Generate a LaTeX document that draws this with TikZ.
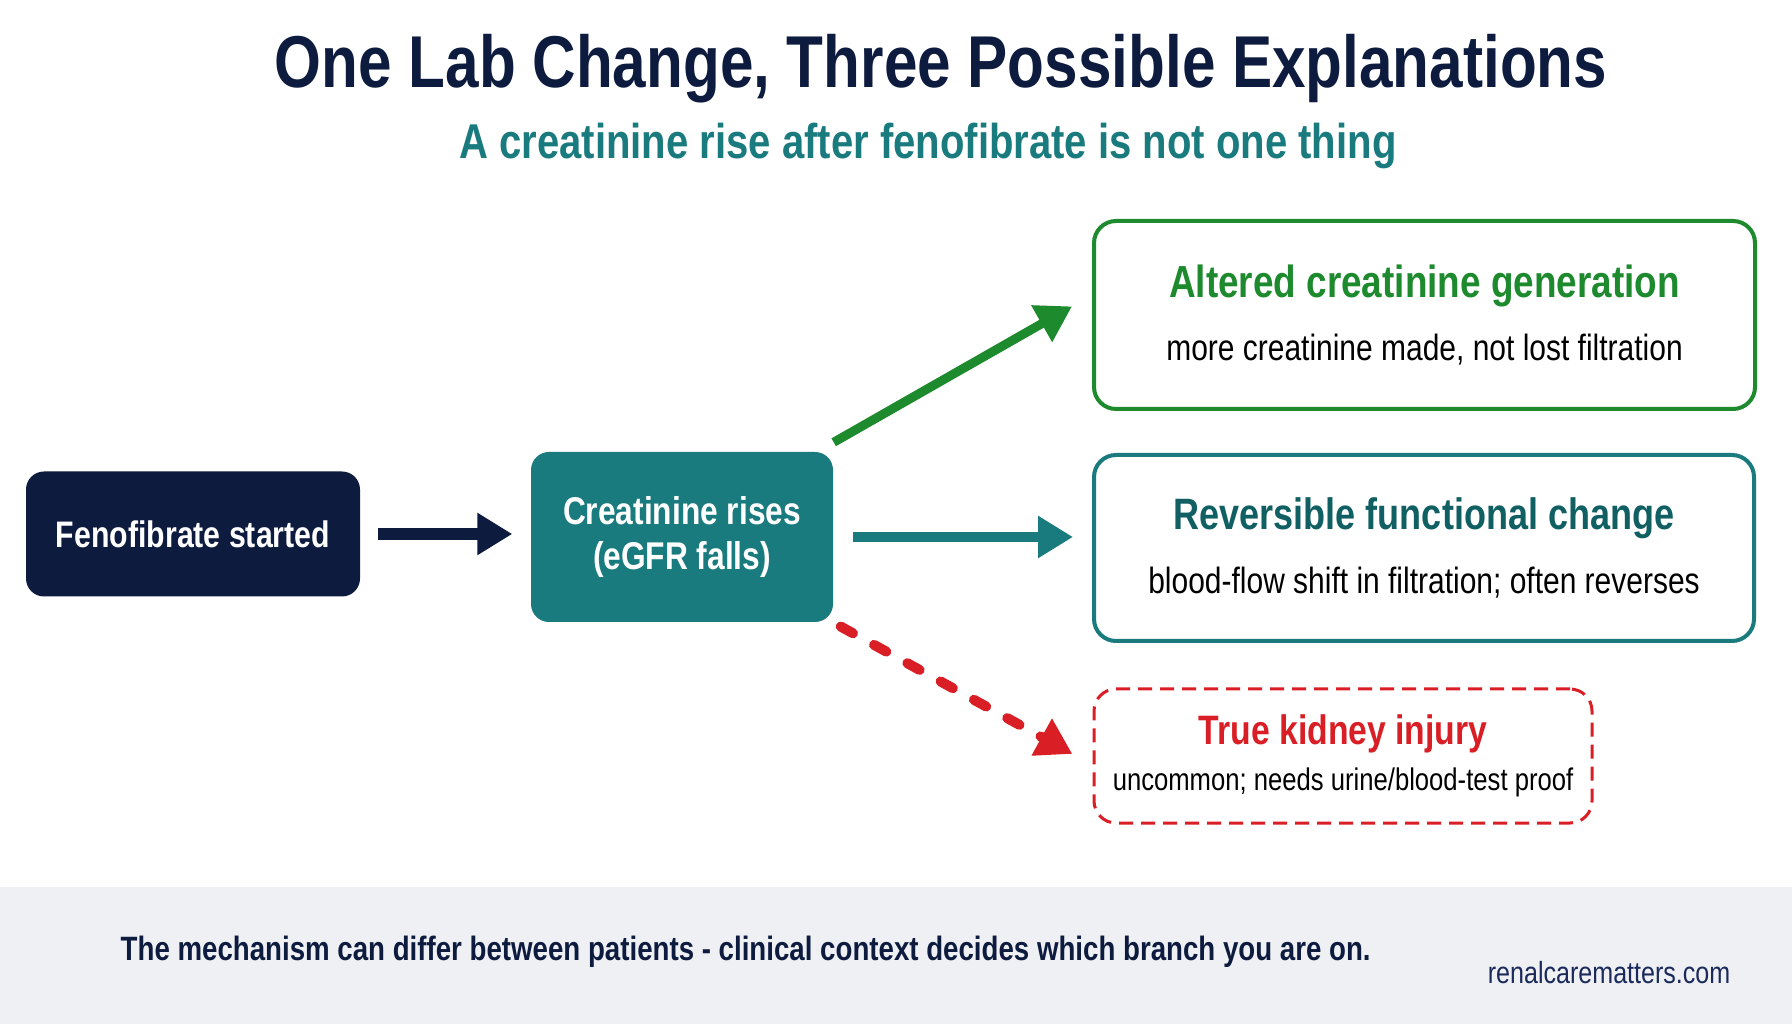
\documentclass[tikz,border=0pt]{standalone}
\usepackage{fontspec}
\setmainfont{Liberation Sans}[FakeStretch=0.82]
\usepackage{tikz}
\usetikzlibrary{arrows.meta,positioning,calc}
\definecolor{navy}{HTML}{0D1B3E}
\definecolor{tealc}{HTML}{1A7B7E}
\definecolor{tealtxt}{HTML}{0F5F63}
\definecolor{altgreen}{HTML}{1E8A2E}
\definecolor{injred}{HTML}{D91E25}
\definecolor{footbg}{HTML}{EEF0F4}
\definecolor{sitec}{HTML}{1B2A5A}
\newcommand{\fs}[2]{\fontsize{#1}{#2}\selectfont}
\tikzset{
  srcbox/.style  = {fill=navy,text=white,rounded corners=1.8mm,minimum width=33.4mm,
                    minimum height=12.5mm,font=\bfseries\fs{10.5}{13}},
  midbox/.style  = {fill=tealc,text=white,rounded corners=1.8mm,minimum width=30.2mm,
                    minimum height=17mm,align=center,font=\bfseries\fs{11}{13}},
  outbox/.style  = {draw,fill=white,line width=0.4mm,rounded corners=2.2mm,align=center,
                    inner sep=0pt,font=\fs{10.4}{18}},
  bigarr/.style  = {-{Triangle[length=3.5mm,width=4mm]},line width=1.2mm},
  brarr/.style   = {-{Triangle[length=3.5mm,width=4mm]},line width=1.05mm,shorten <=1.9mm,shorten >=1.9mm}
}

\begin{document}
\begin{tikzpicture}[x=0.1mm,y=0.1mm]
  \fill[white] (0,0) rectangle (1792,1024);
  \useasboundingbox (0,0) rectangle (1792,1024);
  \fill[footbg] (0,0) rectangle (1792,137);

  % heading
  \node[navy,font=\bfseries\fs{20.9}{24}] (title) at (941,955) {One Lab Change, Three Possible Explanations};
  \node[tealc,font=\bfseries\fs{13.9}{16}] (sub) at (928,878) {A creatinine rise after fenofibrate is not one thing};

  % chain
  \node[srcbox] (feno) at (193,490) {Fenofibrate started};
  \node[midbox] (crea) at (682,487) {Creatinine rises\\(eGFR falls)};

  % three branches
  \node[outbox,draw=altgreen,minimum width=66.1mm,minimum height=18.8mm] (alt) at (1424.5,709)
    {{\color{altgreen}\bfseries\fs{12.8}{18}Altered creatinine generation}\\more creatinine made, not lost filtration};
  \node[outbox,draw=tealc,minimum width=66mm,minimum height=18.6mm] (rev) at (1424,476)
    {{\color{tealtxt}\bfseries\fs{12.5}{18}Reversible functional change}\\blood-flow shift in filtration; often reverses};
  \node[outbox,draw=injred,dashed,dash pattern=on 1.4mm off 0.8mm,line width=0.3mm,
        minimum width=49.8mm,minimum height=13.4mm,font=\fs{8.9}{13}] (inj) at (1343,268)
    {{\color{injred}\bfseries\fs{11.7}{13}True kidney injury}\\uncommon; needs urine/blood-test proof};

  \draw[bigarr,navy,shorten <=1.7mm,shorten >=1.8mm] (feno.east) -- (feno.east -| crea.west);
  \draw[brarr,altgreen,line width=0.9mm,shorten <=0mm,shorten >=2.3mm]
    ($(crea.north east)+(0,9)$) -- ($(alt.west)+(0,20)$);
  \draw[brarr,tealc] (crea.east) -- (crea.east -| rev.west);
  \draw[brarr,injred,line width=1mm,line cap=round,dash pattern=on 1.4mm off 2.4mm,
        shorten <=0.8mm,shorten >=2.3mm] (crea.south east) -- ($(inj.west)+(0,-9)$);

  % footer
  \node[anchor=west,inner sep=0pt,navy,font=\bfseries\fs{9.6}{11}] (note) at (120,72)
    {The mechanism can differ between patients - clinical context decides which branch you are on.};
  \node[anchor=east,inner sep=0pt,sitec,font=\fs{8.7}{10}] (site) at (1731,51) {renalcarematters.com};
\end{tikzpicture}
\end{document}
